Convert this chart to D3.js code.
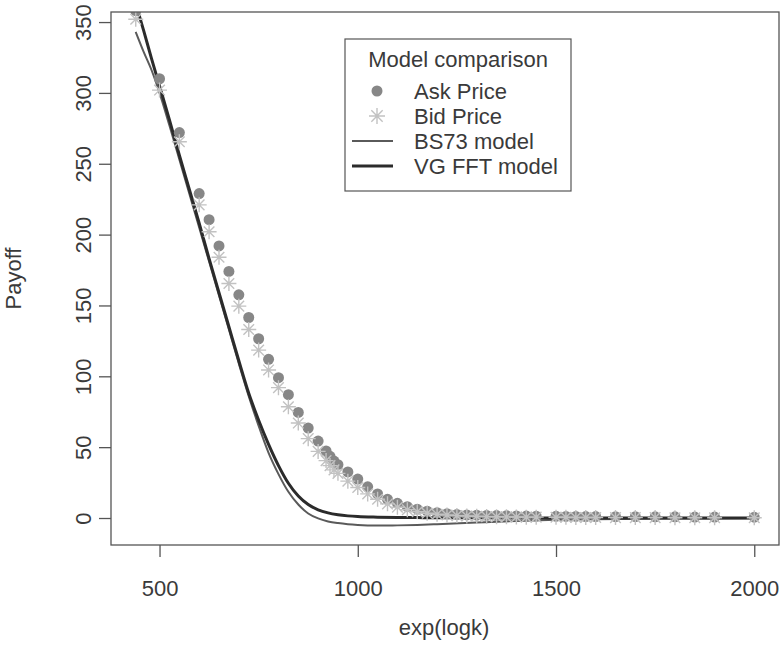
<!DOCTYPE html>
<html>
<head>
<meta charset="utf-8">
<script src="https://cdn.jsdelivr.net/npm/d3@7/dist/d3.min.js"></script>
<style>
  html, body { margin: 0; padding: 0; background: #fff; }
  svg { display: block; }
  text { font-family: "Liberation Sans", Arial, Helvetica, sans-serif; fill: #3a3a3a; }
</style>
</head>
<body>
<svg id="chart" width="780" height="653"></svg>
<script>
// Strike grid and model curves
const modelStrike = [440, 460, 480, 500, 525, 550, 575, 600, 625, 650, 675, 700, 725, 750, 775, 800,
  825, 850, 875, 900, 925, 950, 975, 1000, 1050, 1100, 1150, 1200, 1300, 1400, 1500, 1600, 1800, 2000];
const bs73Model = [343, 329, 316, 300, 277, 253, 229, 205, 181, 157, 133, 109, 86, 65, 46, 31,
  18.5, 9.5, 3.2, -0.3, -2.4, -3.6, -4.4, -4.9, -5.3, -5.2, -4.9, -4.4, -3.2, -2.1, -1.3, -0.8, -0.4, -0.2];
const vgFftModel = [363, 344, 324, 305, 281, 256, 232, 208, 183, 159, 135, 111, 88, 69, 52, 37,
  24.5, 15.5, 9.5, 5.8, 3.6, 2.3, 1.5, 1.0, 0.6, 0.4, 0.3, 0.2, 0.1, 0.05, 0.03, 0.02, 0.01, 0];

// Market quotes
const askStrike = [440, 500, 550, 600, 625, 650, 675, 700, 725, 750, 775, 800, 825, 850, 875, 900,
  920, 930, 940, 950, 975, 1000, 1025, 1050, 1075, 1100, 1125, 1150, 1175, 1200, 1225, 1250, 1275,
  1300, 1325, 1350, 1375, 1400, 1425, 1450, 1500, 1525, 1550, 1575, 1600, 1650, 1700, 1750, 1800,
  1850, 1900, 2000];
const askPrice = [358, 310, 272, 229, 210.5, 192, 174, 157.5, 141.5, 126.5, 112, 99, 87, 74.5, 63.5, 54.3,
  47.3, 43.5, 40.2, 37.6, 32.5, 27.5, 22, 17, 13.2, 10.4, 8, 6.2, 4.8, 3.7, 3, 2.5, 2.2,
  2, 1.8, 1.7, 1.6, 1.5, 1.4, 1.3, 1.2, 1.1, 1.1, 1, 1, 0.9, 0.9, 0.8, 0.8,
  0.7, 0.7, 0.6];
const bidStrike = askStrike;
const bidPrice = [352, 302, 265.5, 221, 202, 184, 165.5, 149.5, 133, 118.5, 104.5, 92, 78.5, 67, 56, 47,
  40.5, 37, 34, 31.5, 26, 21.5, 17, 13.2, 10, 7.6, 5.8, 4.4, 3.4, 2.6, 2.1, 1.7, 1.4,
  1.2, 1.0, 0.9, 0.8, 0.7, 0.6, 0.6, 0.5, 0.5, 0.4, 0.4, 0.4, 0.3, 0.3, 0.3, 0.2,
  0.2, 0.2, 0.2];

// Axis ticks and legend entries
const xTicks = [500, 1000, 1500, 2000];
const yTicks = [0, 50, 100, 150, 200, 250, 300, 350];
const legendLabels = ["Ask Price", "Bid Price", "BS73 model", "VG FFT model"];

const svg = d3.select("#chart");
const box = { left: 111, right: 779, top: 12, bottom: 545 };

// R-style 4% padding around the strike range 440..2000 and the BS73 range
const x = d3.scaleLinear().domain([377.6, 2062.4]).range([box.left, box.right]);
const y = d3.scaleLinear().domain([-19.05, 357.1]).range([box.bottom, box.top]);

svg.append("defs").append("clipPath").attr("id", "plotClip")
  .append("rect")
  .attr("x", box.left).attr("y", box.top)
  .attr("width", box.right - box.left).attr("height", box.bottom - box.top);

const plot = svg.append("g").attr("clip-path", "url(#plotClip)");

const line = d3.line().x(d => x(d[0])).y(d => y(d[1])).curve(d3.curveMonotoneX);

const lineColor = { bs: "#5a5a5a", vg: "#2b2b2b" };
const lineWidth = { bs: 2, vg: 3 };

plot.append("path")
  .datum(modelStrike.map((k, i) => [k, bs73Model[i]]))
  .attr("d", line).attr("fill", "none")
  .attr("stroke", lineColor.bs).attr("stroke-width", lineWidth.bs);

plot.append("path")
  .datum(modelStrike.map((k, i) => [k, vgFftModel[i]]))
  .attr("d", line).attr("fill", "none")
  .attr("stroke", lineColor.vg).attr("stroke-width", lineWidth.vg);

// asterisk symbol (plus overlaid with a cross)
function asterisk(r) {
  const d = r * Math.SQRT1_2;
  return `M${-r},0L${r},0M0,${-r}L0,${r}M${-d},${-d}L${d},${d}M${-d},${d}L${d},${-d}`;
}

const askColor = "#878787";
const bidColor = "#c2c2c2";

plot.selectAll("circle.ask")
  .data(askStrike.map((k, i) => [k, askPrice[i]]))
  .join("circle").attr("class", "ask")
  .attr("cx", d => x(d[0])).attr("cy", d => y(d[1])).attr("r", 5.5)
  .attr("fill", askColor);

plot.selectAll("path.bid")
  .data(bidStrike.map((k, i) => [k, bidPrice[i]]))
  .join("path").attr("class", "bid")
  .attr("transform", d => `translate(${x(d[0])},${y(d[1])})`)
  .attr("d", asterisk(7.5))
  .attr("fill", "none").attr("stroke", bidColor).attr("stroke-width", 1.4);

// frame
svg.append("rect")
  .attr("x", box.left).attr("y", box.top)
  .attr("width", box.right - box.left).attr("height", box.bottom - box.top)
  .attr("fill", "none").attr("stroke", "#555").attr("stroke-width", 1.3);

// axes
const fontSize = 22;
const xAxis = svg.append("g").attr("transform", `translate(0,${box.bottom})`)
  .call(d3.axisBottom(x).tickValues(xTicks).tickSize(12).tickPadding(23).tickFormat(d3.format("d")));
xAxis.select(".domain").remove();
xAxis.selectAll(".tick line").attr("stroke", "#555").attr("stroke-width", 1.3);
xAxis.selectAll(".tick text").attr("font-size", fontSize).attr("fill", "#3a3a3a")
  .attr("font-family", "Liberation Sans, Arial, sans-serif");

const yAxis = svg.append("g").attr("transform", `translate(${box.left},0)`)
  .call(d3.axisLeft(y).tickValues(yTicks).tickSize(12).tickFormat(d3.format("d")));
yAxis.select(".domain").remove();
yAxis.selectAll(".tick line").attr("stroke", "#555").attr("stroke-width", 1.3);
yAxis.selectAll(".tick text")
  .attr("font-size", fontSize).attr("fill", "#3a3a3a")
  .attr("font-family", "Liberation Sans, Arial, sans-serif")
  .attr("x", null).attr("dy", null)
  .attr("text-anchor", "middle")
  .attr("transform", "translate(-20,0) rotate(-90)");

// axis titles
svg.append("text").attr("x", (box.left + box.right) / 2 - 1).attr("y", 635)
  .attr("text-anchor", "middle").attr("font-size", fontSize).text("exp(logk)");
svg.append("text").attr("transform", `translate(21,${(box.top + box.bottom) / 2}) rotate(-90)`)
  .attr("text-anchor", "middle").attr("font-size", fontSize).text("Payoff");

// legend
const lg = { left: 345, top: 39, width: 226, height: 152, row: 25 };
const legend = svg.append("g");
legend.append("rect").attr("x", lg.left).attr("y", lg.top).attr("width", lg.width).attr("height", lg.height)
  .attr("fill", "#fff").attr("stroke", "#555").attr("stroke-width", 1.2);
legend.append("text").attr("x", lg.left + lg.width / 2).attr("y", lg.top + 28)
  .attr("text-anchor", "middle").attr("font-size", fontSize).text("Model comparison");

legendLabels.forEach((label, i) => {
  const cy = lg.top + 52 + i * lg.row;
  const sx = lg.left + 32;
  if (i === 0) {
    legend.append("circle").attr("cx", sx).attr("cy", cy).attr("r", 5.5).attr("fill", askColor);
  } else if (i === 1) {
    legend.append("path").attr("transform", `translate(${sx},${cy})`).attr("d", asterisk(8))
      .attr("fill", "none").attr("stroke", bidColor).attr("stroke-width", 1.4);
  } else {
    const key = i === 2 ? "bs" : "vg";
    legend.append("line").attr("x1", lg.left + 7).attr("x2", lg.left + 48).attr("y1", cy).attr("y2", cy)
      .attr("stroke", lineColor[key]).attr("stroke-width", lineWidth[key]);
  }
  legend.append("text").attr("x", lg.left + 69).attr("y", cy).attr("dy", "0.36em")
    .attr("font-size", fontSize).text(label);
});
</script>
</body>
</html>
